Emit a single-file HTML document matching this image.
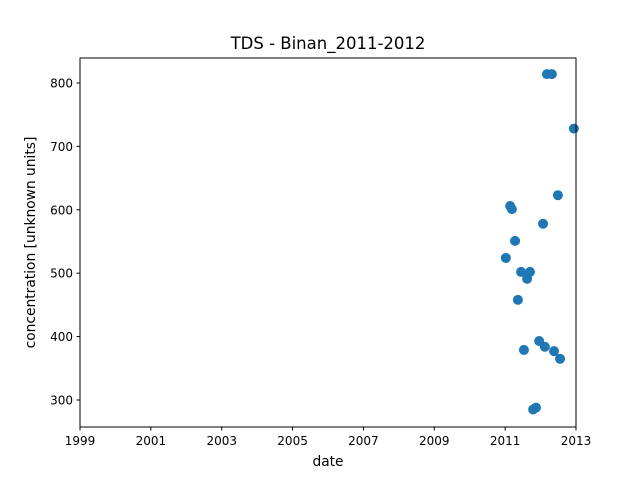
<!DOCTYPE html>
<html><head><meta charset="utf-8"><style>
body{margin:0;background:#fff;font-family:"Liberation Sans","DejaVu Sans",sans-serif}
svg text{font-family:"DejaVu Sans","Liberation Sans",sans-serif;fill:#000}
</style></head><body>
<svg id="chart" width="640" height="480" xmlns="http://www.w3.org/2000/svg">
<rect width="640" height="480" fill="#fff"/>
<text x="328" y="49" font-size="16.5" text-anchor="middle">TDS - Binan_2011-2012</text>
<g id="ticks"></g>
<g id="points"></g>
<rect x="80" y="58" width="496" height="369" fill="none" stroke="#000" stroke-width="1"/>
<text x="328" y="466" font-size="13.8" text-anchor="middle">date</text>
<text x="0" y="0" font-size="13.8" text-anchor="middle" transform="translate(35,242.5) rotate(-90)">concentration [unknown units]</text>
</svg>
<script>
const xTicks=[1999,2001,2003,2005,2007,2009,2011,2013];
const yTicks=[300,400,500,600,700,800];
const dates=[2011.02,2011.14,2011.19,2011.28,2011.36,2011.45,2011.53,2011.62,2011.70,2011.79,2011.87,2011.96,2012.07,2012.12,2012.18,2012.32,2012.38,2012.49,2012.55,2012.94];
const values=[524,606,601,551,458,502,379,491,502,285,288,393,578,384,814,814,377,623,365,728];
const X0=80,X1=576,Y0=427,Y1=58;
const xMin=1999,xMax=2013,yMin=257.4,yMax=839.4;
function sx(v){return X0+(v-xMin)/(xMax-xMin)*(X1-X0);}
function sy(v){return Y0-(v-yMin)/(yMax-yMin)*(Y0-Y1);}
const NS="http://www.w3.org/2000/svg";
const tg=document.getElementById('ticks'),pg=document.getElementById('points');
xTicks.forEach(t=>{
 const x=sx(t);
 const l=document.createElementNS(NS,'line');
 l.setAttribute('x1',x);l.setAttribute('x2',x);l.setAttribute('y1',427);l.setAttribute('y2',430.5);l.setAttribute('stroke','#000');
 
 
 tg.appendChild(l);
 const tx=document.createElementNS(NS,'text');
 tx.setAttribute('x',x);tx.setAttribute('y',445);tx.setAttribute('font-size','12');tx.setAttribute('text-anchor','middle');tx.textContent=t;
 
 
 tg.appendChild(tx);
});
yTicks.forEach(t=>{
 const y=sy(t);
 const l=document.createElementNS(NS,'line');
 l.setAttribute('x1',76.5);l.setAttribute('x2',80);l.setAttribute('y1',y);l.setAttribute('y2',y);l.setAttribute('stroke','#000');
 
 
 tg.appendChild(l);
 const tx=document.createElementNS(NS,'text');
 tx.setAttribute('x',73);tx.setAttribute('y',y+4.5);tx.setAttribute('font-size','12');tx.setAttribute('text-anchor','end');tx.textContent=t;
 
 
 tg.appendChild(tx);
});
dates.forEach((d,i)=>{
 const c=document.createElementNS(NS,'circle');
 c.setAttribute('cx',sx(d));c.setAttribute('cy',sy(values[i]));c.setAttribute('r',5);c.setAttribute('fill','#1f77b4');
 
 
 pg.appendChild(c);
});
</script>
</body></html>
